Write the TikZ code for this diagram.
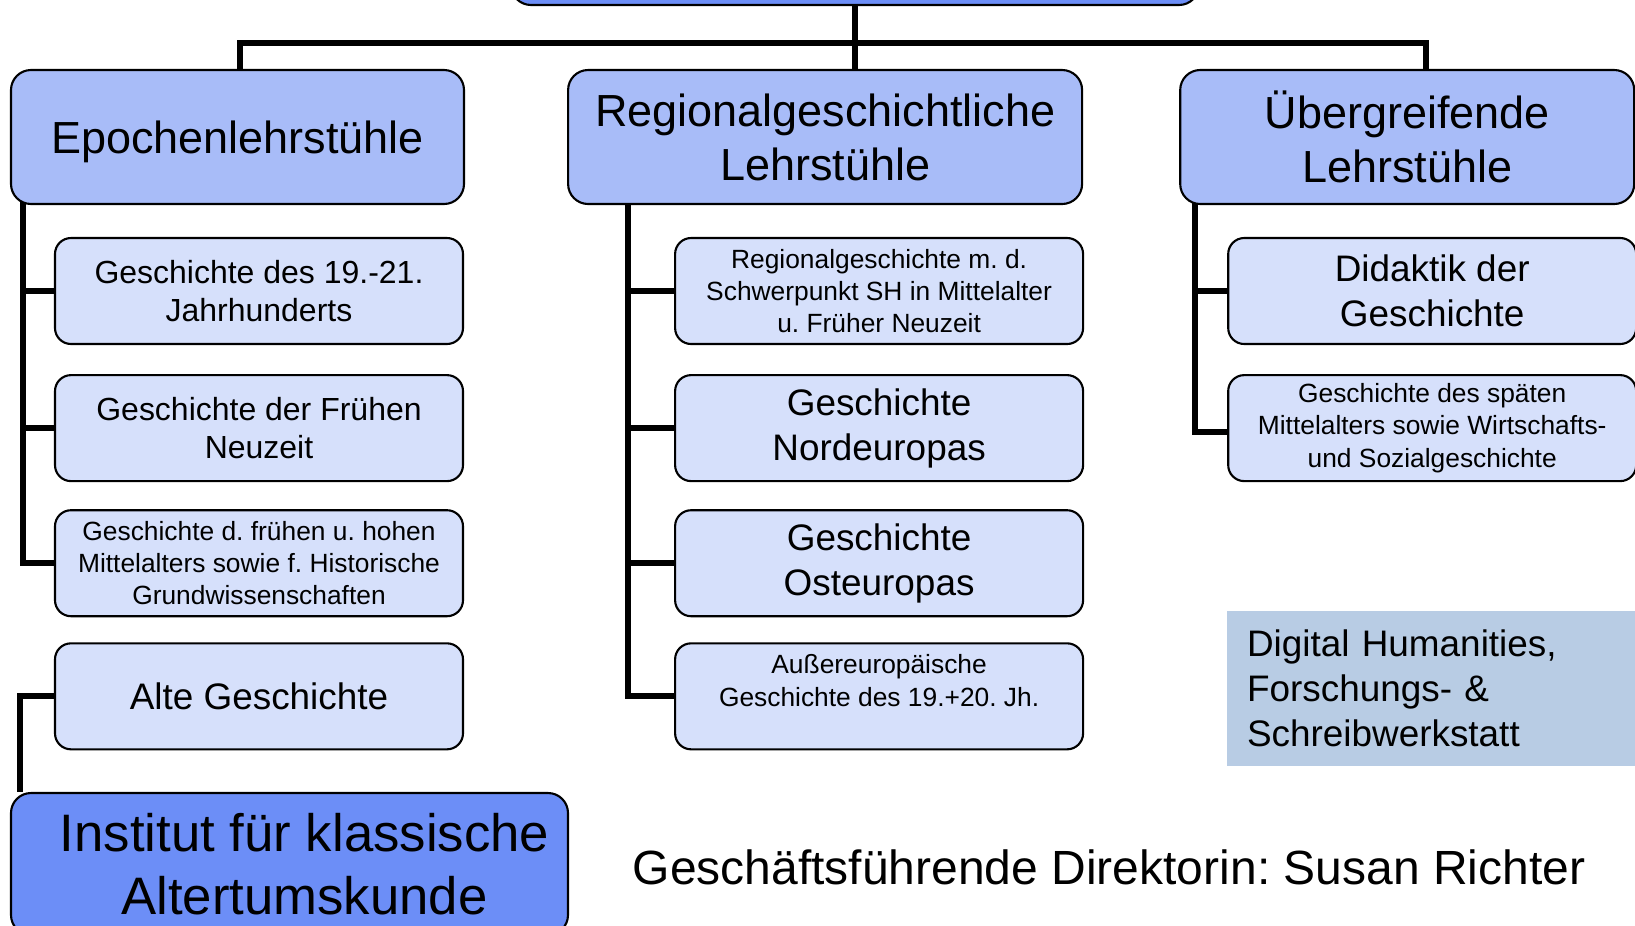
\documentclass[tikz,border=0pt]{standalone}
\usepackage{fontspec}
\setmainfont{Liberation Sans}
\usepackage{xcolor}
\usepackage{tikz}
\usetikzlibrary{positioning, backgrounds}

\definecolor{instblue}{HTML}{6C8EF7}
\definecolor{headblue}{HTML}{A8BCF8}
\definecolor{kidblue}{HTML}{D6E0FB}
\definecolor{dhblue}{HTML}{B8CCE4}

\frenchspacing

\begin{document}
\begin{tikzpicture}[
    x=0.1mm, y=-0.1mm,
    node distance=3mm,
    instbox/.style={rectangle, draw=black, fill=instblue, line width=0.6pt, rounded corners=2mm, align=center, inner sep=0pt},
    headbox/.style={rectangle, draw=black, fill=headblue, line width=0.6pt, rounded corners=2mm, align=center, inner sep=0pt, minimum height=13.4mm, font=\fontsize{12.8}{15.4}\selectfont},
    kidbox/.style={rectangle, draw=black, fill=kidblue, line width=0.6pt, rounded corners=1.6mm, align=center, inner sep=0pt, minimum width=40.8mm, minimum height=10.6mm},
    bigtext/.style={font=\fontsize{10.5}{12.75}\selectfont},
    midtext/.style={font=\fontsize{9.1}{11}\selectfont},
    smalltext/.style={font=\fontsize{7.5}{9.2}\selectfont},
    conn/.style={line width=1.7pt, black}
]
\useasboundingbox (0,0) rectangle (1635,925);
\clip (0,0) rectangle (1635,925);

% Top box (cut off)
\node[instbox, minimum width=68.8mm, minimum height=6.5mm] (top) at (855,-27.5) {};

% Chair groups
\node[headbox, minimum width=45.3mm, text height=9.2pt, text depth=0pt] (epoch) at (237.5,137) {Epochenlehrstühle};
\node[headbox, minimum width=51.4mm, right=10.2mm of epoch] (regio) {Regionalgeschichtliche\\Lehrstühle};
\node[headbox, minimum width=45.4mm, right=9.6mm of regio] (ueber) {Übergreifende\\Lehrstühle};

% Epochs
\node[kidbox, midtext] (lkid1) at (259,291) {Geschichte des 19.-21.\\Jahrhunderts};
\node[kidbox, midtext, below=2.9mm of lkid1] (lkid2) {Geschichte der Frühen\\Neuzeit};
\node[kidbox, smalltext, below=2.7mm of lkid2] (lkid3) {Geschichte d. frühen u. hohen\\Mittelalters sowie f. Historische\\Grundwissenschaften};
\node[kidbox, bigtext, below=2.5mm of lkid3] (alte) {Alte Geschichte};

% Regions
\node[kidbox, smalltext, right=21mm of lkid1] (mkid1) {Regionalgeschichte m. d.\\Schwerpunkt SH in Mittelalter\\u. Früher Neuzeit};
\node[kidbox, bigtext, right=21mm of lkid2] (mkid2) {Geschichte\\Nordeuropas};
\node[kidbox, bigtext, right=21mm of lkid3] (mkid3) {Geschichte\\Osteuropas};
\node[kidbox, smalltext, right=21mm of alte, text depth=9pt] (mkid4) {Außereuropäische\\Geschichte des 19.+20. Jh.};

% Cross-cutting
\node[kidbox, bigtext, right=14.3mm of mkid1] (rkid1) {Didaktik der\\Geschichte};
\node[kidbox, smalltext, right=14.3mm of mkid2] (rkid2) {Geschichte des späten\\Mittelalters sowie Wirtschafts-\\und Sozialgeschichte};

% Institute and extras
\node[instbox, minimum width=55.7mm, minimum height=14.2mm, font=\fontsize{15}{18.1}\selectfont] (klass) at (289.5,864) {\hspace*{3mm}Institut für klassische\\\hspace*{3mm}Altertumskunde};
\node[rectangle, fill=dhblue, minimum width=40.8mm, minimum height=15.5mm, text width=36.8mm, inner xsep=2mm, align=left, bigtext] (dh) at (1431,688.5) {Digital Humanities,\\Forschungs- \&\\Schreibwerkstatt};
\node[font=\fontsize{13.66}{16}\selectfont] (gf) at (1109,867.5) {Geschäftsführende Direktorin: Susan Richter};

% Connectors
\begin{scope}[on background layer]
\coordinate (bus) at (855,43);
\draw[conn] (top.south) -- (bus) -- (regio.north -| bus);
\draw[conn] ([xshift=0.25mm]epoch.north) |- (bus) -| ([xshift=1.9mm]ueber.north);

\coordinate (etrunk) at ([xshift=1.3mm,yshift=1mm]epoch.south west);
\draw[conn] (etrunk) |- (lkid3.west);
\draw[conn] (lkid1.west) -- (lkid1.west -| etrunk);
\draw[conn] (lkid2.west) -- (lkid2.west -| etrunk);
\draw[conn] (alte.west) -| ([xshift=1mm]klass.north west);

\coordinate (mtrunk) at ([xshift=6.1mm,yshift=1mm]regio.south west);
\draw[conn] (mtrunk) |- (mkid4.west);
\draw[conn] (mkid1.west) -- (mkid1.west -| mtrunk);
\draw[conn] (mkid2.west) -- (mkid2.west -| mtrunk);
\draw[conn] (mkid3.west) -- (mkid3.west -| mtrunk);

\coordinate (rtrunk) at ([xshift=1.6mm,yshift=1mm]ueber.south west);
\draw[conn] (rtrunk) |- ([yshift=-0.35mm]rkid2.west);
\draw[conn] (rkid1.west) -- (rkid1.west -| rtrunk);
\end{scope}

\end{tikzpicture}
\end{document}
